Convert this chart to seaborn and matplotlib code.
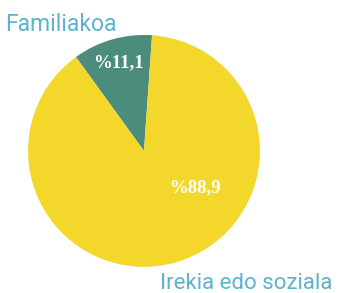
import numpy as np
import matplotlib
matplotlib.use("Agg")
import matplotlib.pyplot as plt
import seaborn as sns

categories = ["Familiakoa", "Irekia edo soziala"]
shares = [11.1, 88.9]
colors = ["#4B8C7D", "#F3D82B"]
label_color = "#5DB3CF"

sns.set_style("white")

fig = plt.figure(figsize=(3.38, 2.93), dpi=100)
ax = fig.add_axes([0.083, 0.089, 0.686, 0.792])

wedges, _ = ax.pie(shares, colors=colors, startangle=86, counterclock=True,
                   wedgeprops=dict(linewidth=0))
ax.set_xlim(-1, 1)
ax.set_ylim(-1, 1)
ax.set_aspect("equal")

# percentage labels, white serif inside the wedges
label_r = [0.79, 0.54]
label_shift = [0, 38]
for w, v, r, s in zip(wedges, shares, label_r, label_shift):
    ang = np.deg2rad((w.theta1 + w.theta2) / 2 + s)
    txt = "%" + f"{v:.1f}".replace(".", ",")
    ax.text(r * np.cos(ang), r * np.sin(ang), txt, color="white",
            family="Liberation Serif", fontsize=13.5, fontweight="bold",
            ha="center", va="center")

fig.text(0.015, 0.894, categories[0], color=label_color, family="Roboto",
         fontsize=16.5, ha="left", va="baseline")
fig.text(0.472, 0.014, categories[1], color=label_color, family="Roboto",
         fontsize=16, ha="left", va="baseline")

fig.savefig("out.png", dpi=100)
